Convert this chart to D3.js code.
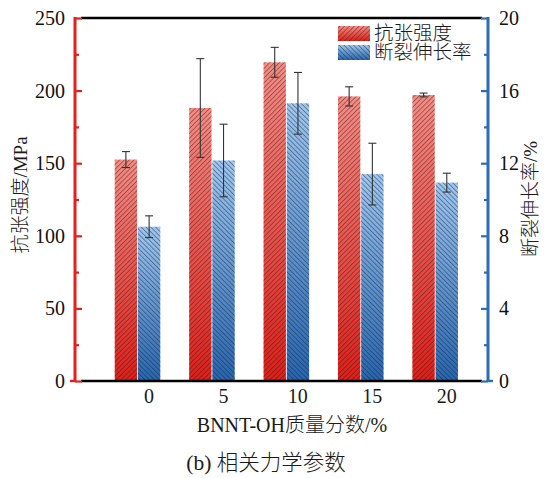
<!DOCTYPE html>
<html><head><meta charset="utf-8">
<script src="https://cdn.jsdelivr.net/npm/d3@7"></script>
<style>
html,body{margin:0;padding:0;background:#fff;}
svg{display:block;}
</style></head>
<body><svg id="c" width="548" height="478"></svg>
<script>
const categories = [0, 5, 10, 15, 20];
const strength = [152.5, 188, 219.5, 196, 197];
const strengthErr = [5.5, 34, 10.3, 6.6, 1.3];
const elongation = [8.5, 12.15, 15.3, 11.4, 10.93];
const elongationErr = [0.6, 2.0, 1.7, 1.7, 0.52];
const leftTicks = [0, 50, 100, 150, 200, 250];
const leftMinor = [25, 75, 125, 175, 225];
const rightTicks = [0, 4, 8, 12, 16, 20];
const rightMinor = [2, 6, 10, 14, 18];
const seriesNames = ["抗张强度", "断裂伸长率"];

const FONT = '"Liberation Serif", "Noto Sans CJK SC", serif';
const svg = d3.select("#c");
const L = 75, R = 488, T = 18, B = 381;
const RED = "#e5211d", BLUE = "#2d6db5";

const x = d3.scaleLinear().domain([-4.97, 22.78]).range([L, R]);
const yL = d3.scaleLinear().domain([0, 250]).range([B, T]);
const yR = d3.scaleLinear().domain([0, 20]).range([B, T]);

const defs = svg.append("defs");
function grad(id, top, bot) {
  const g = defs.append("linearGradient").attr("id", id)
    .attr("x1", 0).attr("y1", 0).attr("x2", 0).attr("y2", 1);
  g.append("stop").attr("offset", "0%").attr("stop-color", top);
  g.append("stop").attr("offset", "100%").attr("stop-color", bot);
}
grad("gRed", "#fa8c84", "#e21d17");
grad("gBlue", "#9ec8f4", "#2565b2");
function hatch(id, angle) {
  const p = defs.append("pattern").attr("id", id).attr("patternUnits", "userSpaceOnUse")
    .attr("width", 3.4).attr("height", 10).attr("patternTransform", `rotate(${angle})`);
  p.append("line").attr("x1", 0.5).attr("y1", 0).attr("x2", 0.5).attr("y2", 10)
    .attr("stroke", "#222").attr("stroke-width", 0.7).attr("opacity", 0.7);
}
hatch("hRed", 45);
hatch("hBlue", -45);

const unit = x(1) - x(0);
const bw = 1.5;

function drawBars(vals, errs, yS, off, fill, hat) {
  const g = svg.append("g");
  const sel = g.selectAll("g").data(categories.map((c, i) => ({c, v: vals[i], e: errs[i]}))).enter().append("g");
  sel.append("rect").attr("x", d => x(d.c + off)).attr("y", d => yS(d.v))
    .attr("width", bw * unit).attr("height", d => B - yS(d.v)).attr("fill", fill);
  sel.append("rect").attr("x", d => x(d.c + off)).attr("y", d => yS(d.v))
    .attr("width", bw * unit).attr("height", d => B - yS(d.v)).attr("fill", hat);
  const cx = d => x(d.c + off) + bw * unit / 2;
  sel.append("line").attr("x1", cx).attr("x2", cx).attr("y1", d => yS(d.v + d.e)).attr("y2", d => yS(d.v - d.e))
    .attr("stroke", "#333").attr("stroke-width", 1.1);
  [1, -1].forEach(s => {
    sel.append("line").attr("x1", d => cx(d) - 4).attr("x2", d => cx(d) + 4)
      .attr("y1", d => yS(d.v + s * d.e)).attr("y2", d => yS(d.v + s * d.e))
      .attr("stroke", "#333").attr("stroke-width", 1.1);
  });
}
drawBars(strength, strengthErr, yL, -2.3, "url(#gRed)", "url(#hRed)");
drawBars(elongation, elongationErr, yR, -0.74, "url(#gBlue)", "url(#hBlue)");

svg.append("line").attr("x1", L + 6).attr("x2", R - 6).attr("y1", T).attr("y2", T).attr("stroke", "#000").attr("stroke-width", 2.4);
svg.append("line").attr("x1", L + 6).attr("x2", R - 6).attr("y1", B).attr("y2", B).attr("stroke", "#000").attr("stroke-width", 2.4);

function styleAxis(gs, col) {
  gs.forEach(g => {
    g.attr("font-family", null).attr("font-size", null);
    g.selectAll("line").attr("stroke", col).attr("stroke-width", 2.2);
    g.select(".domain").attr("stroke", col).attr("stroke-width", 2.6).attr("d", `M0,${T - 1}V${B + 1}`);
    g.selectAll("text").style("font-family", FONT).style("font-size", "20px").attr("fill", "#111");
  });
}
const gl = svg.append("g").attr("transform", `translate(${L},0)`)
  .call(d3.axisLeft(yL).tickValues(leftTicks).tickSize(-7).tickPadding(10).tickFormat(d3.format("d")));
const glm = svg.append("g").attr("transform", `translate(${L},0)`)
  .call(d3.axisLeft(yL).tickValues(leftMinor).tickSize(-4).tickFormat(""));
styleAxis([gl, glm], RED);
svg.append("line").attr("x1", L - 5).attr("x2", L).attr("y1", B).attr("y2", B).attr("stroke", RED).attr("stroke-width", 2.4);

const gr = svg.append("g").attr("transform", `translate(${R},0)`)
  .call(d3.axisRight(yR).tickValues(rightTicks).tickSize(-7).tickPadding(11).tickFormat(d3.format("d")));
const grm = svg.append("g").attr("transform", `translate(${R},0)`)
  .call(d3.axisRight(yR).tickValues(rightMinor).tickSize(-4).tickFormat(""));
styleAxis([gr, grm], BLUE);
svg.append("line").attr("x1", R).attr("x2", R + 5).attr("y1", B).attr("y2", B).attr("stroke", BLUE).attr("stroke-width", 2.4);

function txt(sel) { return sel.style("font-family", FONT).attr("fill", "#1a1a1a").style("font-weight", "300"); }

txt(svg.append("g").selectAll("text").data(categories).enter().append("text")
  .attr("x", d => x(d)).attr("y", 403).attr("text-anchor", "middle")
  .style("font-size", "20px").text(d => d));

txt(svg.append("text").attr("x", 292).attr("y", 432).attr("text-anchor", "middle").style("font-size", "20px")
  .text("BNNT-OH质量分数/%"));
txt(svg.append("text").attr("x", 266).attr("y", 470).attr("text-anchor", "middle").style("font-size", "21.5px")
  .text("(b) 相关力学参数"));
txt(svg.append("text").attr("transform", "translate(27,195) rotate(-90)").attr("text-anchor", "middle")
  .style("font-size", "19px").text("抗张强度/MPa"));
txt(svg.append("text").attr("transform", "translate(537,199) rotate(-90)").attr("text-anchor", "middle")
  .style("font-size", "19px").text("断裂伸长率/%"));

const lg = svg.append("g");
[["url(#gRed)", "url(#hRed)"], ["url(#gBlue)", "url(#hBlue)"]].forEach((f, i) => {
  const yy = 26 + i * 19;
  lg.append("rect").attr("x", 338).attr("y", yy).attr("width", 32).attr("height", 15).attr("fill", f[0]);
  lg.append("rect").attr("x", 338).attr("y", yy).attr("width", 32).attr("height", 15).attr("fill", f[1]);
  txt(lg.append("text").attr("x", 374).attr("y", yy + 14).style("font-size", "19.5px").text(seriesNames[i]));
});
</script></body></html>
